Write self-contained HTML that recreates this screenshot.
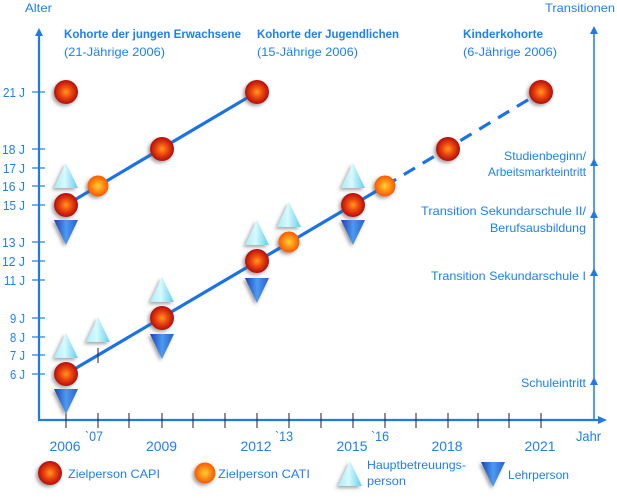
<!DOCTYPE html>
<html><head><meta charset="utf-8"><style>
html,body{margin:0;padding:0;background:#fff;}
svg{display:block;}
text{font-family:"Liberation Sans",sans-serif;fill:#1e80ee;font-size:12px;}
.b{font-weight:bold;}
.yl{font-size:13px;}
.xl{font-size:14px;}
</style></head><body>
<svg width="617" height="498" viewBox="0 0 617 498" xmlns="http://www.w3.org/2000/svg">
<defs>
<radialGradient id="capi" cx="50%" cy="50%" r="50%">
<stop offset="0%" stop-color="#ff9c1c"/>
<stop offset="45%" stop-color="#ee4a10"/>
<stop offset="100%" stop-color="#b40c0c"/>
</radialGradient>
<radialGradient id="cati" cx="50%" cy="50%" r="50%">
<stop offset="0%" stop-color="#ffd23a"/>
<stop offset="55%" stop-color="#ff8c12"/>
<stop offset="100%" stop-color="#ff5800"/>
</radialGradient>
<linearGradient id="up" x1="0" y1="0" x2="1" y2="0">
<stop offset="0%" stop-color="#a6ecf8"/>
<stop offset="45%" stop-color="#d8f9fd"/>
<stop offset="100%" stop-color="#5ecfec"/>
</linearGradient>
<linearGradient id="dn" x1="0" y1="0" x2="1" y2="0">
<stop offset="0%" stop-color="#1c3fb4"/>
<stop offset="50%" stop-color="#4c9af0"/>
<stop offset="100%" stop-color="#2a5ed0"/>
</linearGradient>
<filter id="sh" x="-50%" y="-50%" width="200%" height="200%">
<feDropShadow dx="-2" dy="2" stdDeviation="1.8" flood-color="#555" flood-opacity="0.55"/>
</filter>
<g id="C"><circle r="12" fill="url(#capi)" filter="url(#sh)"/></g>
<g id="O"><circle r="10.5" fill="url(#cati)" filter="url(#sh)"/></g>
<g id="U"><polygon points="0,0 12,25 -12,25" fill="url(#up)" filter="url(#sh)"/></g>
<g id="D"><polygon points="-12,0 12,0 0,25" fill="url(#dn)" filter="url(#sh)"/></g>
</defs>

<!-- header labels -->
<text x="25" y="12" textLength="27" lengthAdjust="spacingAndGlyphs">Alter</text>
<text x="545" y="12" textLength="70" lengthAdjust="spacingAndGlyphs">Transitionen</text>

<text class="b" x="64" y="38" textLength="177" lengthAdjust="spacingAndGlyphs">Kohorte der jungen Erwachsene</text>
<text x="64" y="56" textLength="101" lengthAdjust="spacingAndGlyphs">(21-Jährige 2006)</text>
<text class="b" x="257" y="38" textLength="142" lengthAdjust="spacingAndGlyphs">Kohorte der Jugendlichen</text>
<text x="257" y="56" textLength="101" lengthAdjust="spacingAndGlyphs">(15-Jährige 2006)</text>
<text class="b" x="463" y="38" textLength="80" lengthAdjust="spacingAndGlyphs">Kinderkohorte</text>
<text x="463" y="56" textLength="94" lengthAdjust="spacingAndGlyphs">(6-Jährige 2006)</text>

<!-- axes -->
<g stroke="#1f7ae8" fill="none">
<line x1="39" y1="420" x2="39" y2="34" stroke-width="2.2"/>
<line x1="38" y1="420" x2="600" y2="420" stroke-width="2.2"/>
<line x1="594" y1="420" x2="594" y2="32" stroke-width="1.5"/>
</g>
<g fill="#1f7ae8">
<polygon points="39,28 35,36 43,36"/>
<polygon points="594,26 590,34 598,34"/>
<polygon points="607,420 598,416 598,424"/>
<polygon points="594,158 590,166 598,166"/>
<polygon points="594,210 590,218 598,218"/>
<polygon points="594,268 590,276 598,276"/>
<polygon points="594,377 590,385 598,385"/>
</g>

<!-- y ticks -->
<g stroke="#1f7ae8" stroke-width="1.2">
<line x1="32" y1="92" x2="45" y2="92"/>
<line x1="32" y1="149" x2="45" y2="149"/>
<line x1="32" y1="168" x2="45" y2="168"/>
<line x1="32" y1="186" x2="45" y2="186"/>
<line x1="32" y1="205" x2="45" y2="205"/>
<line x1="32" y1="242" x2="45" y2="242"/>
<line x1="32" y1="261" x2="45" y2="261"/>
<line x1="32" y1="280" x2="45" y2="280"/>
<line x1="32" y1="318" x2="45" y2="318"/>
<line x1="32" y1="337" x2="45" y2="337"/>
<line x1="32" y1="355" x2="45" y2="355"/>
<line x1="32" y1="374" x2="45" y2="374"/>
</g>
<g class="yl" text-anchor="end">
<text class="yl" x="25" y="97" textLength="22" lengthAdjust="spacingAndGlyphs">21 J</text>
<text class="yl" x="25" y="154" textLength="23" lengthAdjust="spacingAndGlyphs">18 J</text>
<text class="yl" x="25" y="173" textLength="22" lengthAdjust="spacingAndGlyphs">17 J</text>
<text class="yl" x="25" y="191" textLength="23" lengthAdjust="spacingAndGlyphs">16 J</text>
<text class="yl" x="25" y="210" textLength="22" lengthAdjust="spacingAndGlyphs">15 J</text>
<text class="yl" x="25" y="247" textLength="23" lengthAdjust="spacingAndGlyphs">13 J</text>
<text class="yl" x="25" y="266" textLength="23" lengthAdjust="spacingAndGlyphs">12 J</text>
<text class="yl" x="25" y="285" textLength="21" lengthAdjust="spacingAndGlyphs">11 J</text>
<text class="yl" x="25" y="323" textLength="15" lengthAdjust="spacingAndGlyphs">9 J</text>
<text class="yl" x="25" y="342" textLength="15" lengthAdjust="spacingAndGlyphs">8 J</text>
<text class="yl" x="25" y="360" textLength="15" lengthAdjust="spacingAndGlyphs">7 J</text>
<text class="yl" x="25" y="379" textLength="15" lengthAdjust="spacingAndGlyphs">6 J</text>
</g>

<!-- x ticks -->
<g stroke="#222" stroke-width="1">
<line x1="66" y1="413" x2="66" y2="428"/>
<line x1="98" y1="413" x2="98" y2="428"/>
<line x1="129" y1="413" x2="129" y2="428"/>
<line x1="162" y1="413" x2="162" y2="428"/>
<line x1="193" y1="413" x2="193" y2="428"/>
<line x1="225" y1="413" x2="225" y2="428"/>
<line x1="257" y1="413" x2="257" y2="428"/>
<line x1="289" y1="413" x2="289" y2="428"/>
<line x1="321" y1="413" x2="321" y2="428"/>
<line x1="353" y1="413" x2="353" y2="428"/>
<line x1="385" y1="413" x2="385" y2="428"/>
<line x1="416" y1="413" x2="416" y2="428"/>
<line x1="448" y1="413" x2="448" y2="428"/>
<line x1="478" y1="413" x2="478" y2="428"/>
<line x1="509" y1="413" x2="509" y2="428"/>
<line x1="541" y1="413" x2="541" y2="428"/>
</g>
<g text-anchor="middle">
<text class="xl" x="65" y="451" textLength="31" lengthAdjust="spacingAndGlyphs">2006</text>
<text class="xl" x="161.5" y="451" textLength="31" lengthAdjust="spacingAndGlyphs">2009</text>
<text class="xl" x="256" y="451" textLength="31" lengthAdjust="spacingAndGlyphs">2012</text>
<text class="xl" x="352" y="451" textLength="31" lengthAdjust="spacingAndGlyphs">2015</text>
<text class="xl" x="447" y="451" textLength="31" lengthAdjust="spacingAndGlyphs">2018</text>
<text class="xl" x="540" y="451" textLength="31" lengthAdjust="spacingAndGlyphs">2021</text>
</g>
<text class="xl" x="85" y="441" textLength="18" lengthAdjust="spacingAndGlyphs">`07</text>
<text class="xl" x="275" y="441" textLength="18" lengthAdjust="spacingAndGlyphs">`13</text>
<text class="xl" x="371" y="441" textLength="18" lengthAdjust="spacingAndGlyphs">`16</text>
<text class="xl" x="576" y="441" textLength="25" lengthAdjust="spacingAndGlyphs">Jahr</text>

<!-- transitions -->
<g text-anchor="end">
<text x="586" y="160" textLength="82" lengthAdjust="spacingAndGlyphs">Studienbeginn/</text>
<text x="586" y="176" textLength="98" lengthAdjust="spacingAndGlyphs">Arbeitsmarkteintritt</text>
<text x="586" y="215" textLength="165" lengthAdjust="spacingAndGlyphs">Transition Sekundarschule II/</text>
<text x="586" y="232" textLength="96" lengthAdjust="spacingAndGlyphs">Berufsausbildung</text>
<text x="586" y="280" textLength="155" lengthAdjust="spacingAndGlyphs">Transition Sekundarschule I</text>
<text x="586" y="387" textLength="65" lengthAdjust="spacingAndGlyphs">Schuleintritt</text>
</g>

<!-- cohort lines -->
<g stroke="#1a72e6" stroke-width="3.2" fill="none">
<line x1="66" y1="205" x2="257" y2="92"/>
<line x1="66" y1="374" x2="385" y2="186"/>
<line x1="385" y1="186" x2="541" y2="92" stroke-dasharray="13,9"/>
</g>
<g stroke="#222" stroke-width="1"><line x1="98" y1="348" x2="98" y2="363"/></g>

<!-- triangles -->
<use href="#U" x="66" y="163"/>
<use href="#D" x="66" y="220"/>
<use href="#U" x="66" y="333"/>
<use href="#D" x="66" y="389"/>
<use href="#U" x="98" y="317"/>
<use href="#U" x="162" y="277"/>
<use href="#D" x="162" y="334"/>
<use href="#U" x="257" y="220"/>
<use href="#D" x="257" y="278"/>
<use href="#U" x="289" y="202"/>
<use href="#U" x="353" y="163"/>
<use href="#D" x="353" y="220"/>

<!-- circles -->
<use href="#C" x="66" y="92"/>
<use href="#C" x="66" y="205"/>
<use href="#O" x="98" y="186"/>
<use href="#C" x="162" y="149"/>
<use href="#C" x="257" y="92"/>
<use href="#C" x="66" y="374"/>
<use href="#C" x="162" y="318"/>
<use href="#C" x="257" y="261"/>
<use href="#O" x="289" y="242"/>
<use href="#C" x="353" y="205"/>
<use href="#O" x="385" y="186"/>
<use href="#C" x="448" y="149"/>
<use href="#C" x="541" y="92"/>

<!-- legend -->
<use href="#C" x="50" y="473"/>
<text x="68" y="478" textLength="92" lengthAdjust="spacingAndGlyphs">Zielperson CAPI</text>
<use href="#O" x="205" y="473"/>
<text x="218" y="478" textLength="92" lengthAdjust="spacingAndGlyphs">Zielperson CATI</text>
<use href="#U" x="350" y="461"/>
<text x="367" y="469" textLength="99" lengthAdjust="spacingAndGlyphs">Hauptbetreuungs-</text>
<text x="367" y="485" textLength="39" lengthAdjust="spacingAndGlyphs">person</text>
<use href="#D" x="493" y="462"/>
<text x="508" y="479" textLength="61" lengthAdjust="spacingAndGlyphs">Lehrperson</text>
</svg>
</body></html>
